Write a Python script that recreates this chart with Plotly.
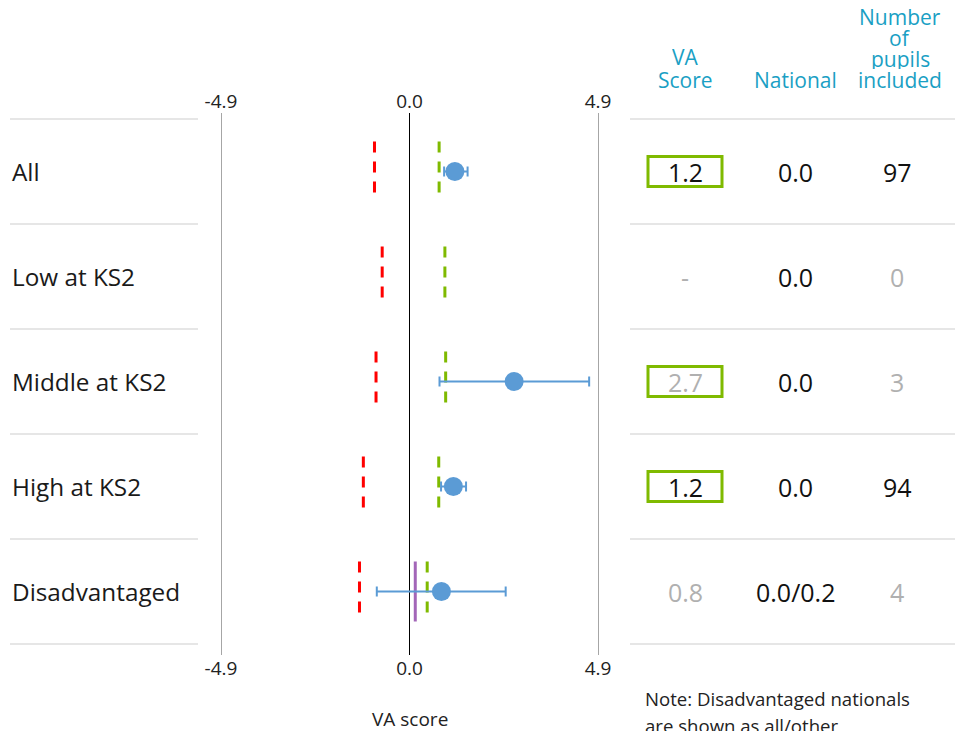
import plotly.graph_objects as go

# ---------------- data ----------------
categories = ["All", "Low at KS2", "Middle at KS2", "High at KS2", "Disadvantaged"]
va_score = [1.18, None, 2.72, 1.14, 0.83]
ci_lower = [0.90, None, 0.78, 0.82, -0.85]
ci_upper = [1.51, None, 4.67, 1.47, 2.50]
red_line = [-0.91, -0.71, -0.87, -1.20, -1.30]
green_line = [0.77, 0.92, 0.94, 0.76, 0.46]
purple_line = [None, None, None, None, 0.15]

va_labels = ["1.2", "-", "2.7", "1.2", "0.8"]
national_labels = ["0.0", "0.0", "0.0", "0.0", "0.0/0.2"]
pupils = [97, 0, 3, 94, 4]
boxed = [True, False, True, True, False]

tick_vals = [-4.9, 0.0, 4.9]
tick_text = ["-4.9", "0.0", "4.9"]

# ---------------- styling / layout helpers ----------------
W, H = 955, 731
FONT = "Open Sans"
HEAD = "#1a9fc4"
GREY = "#b0b0b0"
GREEN = "#7fba00"
RED = "#ff0000"
PURPLE = "#a366b8"
BLUE = "#5b9bd5"
SEP = "#e6e6e6"

def px(p):
    return p / W

def py(p):
    return 1 - p / H

row_px = 105.0
first_row_px = 171.5
plot_top, plot_bot = 113, 655
zero_px, scale = 409.5, 38.47
dom_l, dom_r = 205, 614
x_range = [(dom_l - zero_px) / scale, (dom_r - zero_px) / scale]
y_range = [(plot_bot - first_row_px) / row_px, (plot_top - first_row_px) / row_px]
half = 30 / row_px

def vline_series(vals):
    xs, ys = [], []
    for i, v in enumerate(vals):
        if v is None:
            continue
        xs += [v, v, None]
        ys += [i - half, i + half, None]
    return xs, ys

fig = go.Figure()

rx, ry = vline_series(red_line)
fig.add_trace(go.Scatter(x=rx, y=ry, mode="lines",
                         line=dict(color=RED, width=3, dash="11px,9px"),
                         hoverinfo="skip"))
gx, gy = vline_series(green_line)
fig.add_trace(go.Scatter(x=gx, y=gy, mode="lines",
                         line=dict(color=GREEN, width=3, dash="11px,9px"),
                         hoverinfo="skip"))
ppx, ppy = vline_series(purple_line)
fig.add_trace(go.Scatter(x=ppx, y=ppy, mode="lines",
                         line=dict(color=PURPLE, width=3),
                         hoverinfo="skip"))

rows = list(range(len(categories)))
err_plus = [None if v is None else u - v for v, u in zip(va_score, ci_upper)]
err_minus = [None if v is None else v - l for v, l in zip(va_score, ci_lower)]
fig.add_trace(go.Scatter(
    x=va_score, y=rows, mode="markers",
    marker=dict(color=BLUE, size=19),
    error_x=dict(type="data", symmetric=False, array=err_plus, arrayminus=err_minus,
                 color=BLUE, thickness=2, width=5),
    hovertext=categories, hoverinfo="x+text"))

# dummy trace for top axis
fig.add_trace(go.Scatter(x=[0], y=[0], xaxis="x2", mode="markers",
                         marker=dict(opacity=0), hoverinfo="skip"))

shapes = []
annotations = []

# row separators
for i in range(len(categories) + 1):
    yb = i - 0.5
    shapes.append(dict(type="line", xref="paper", yref="y", x0=px(10), x1=px(198),
                       y0=yb, y1=yb, line=dict(color=SEP, width=2)))
    shapes.append(dict(type="line", xref="paper", yref="y", x0=px(630), x1=1,
                       y0=yb, y1=yb, line=dict(color=SEP, width=2)))

for i, cat in enumerate(categories):
    annotations.append(dict(text=cat, xref="paper", yref="y", x=px(10), y=i,
                            xanchor="left", yanchor="middle", showarrow=False,
                            font=dict(family=FONT, size=24.3, color="#1a1a1a")))
    small = pupils[i] < 5
    annotations.append(dict(text=va_labels[i], xref="paper", yref="y", x=px(685), y=i,
                            xanchor="center", yanchor="middle", showarrow=False,
                            font=dict(family=FONT, size=25, color=GREY if small else "#111")))
    annotations.append(dict(text=national_labels[i], xref="paper", yref="y", x=px(795), y=i,
                            xanchor="center", yanchor="middle", showarrow=False,
                            font=dict(family=FONT, size=25, color="#111")))
    annotations.append(dict(text=str(pupils[i]), xref="paper", yref="y", x=px(897), y=i,
                            xanchor="center", yanchor="middle", showarrow=False,
                            font=dict(family=FONT, size=25, color=GREY if small else "#111")))
    if boxed[i]:
        shapes.append(dict(type="rect", xref="paper", yref="y", x0=px(648), x1=px(722),
                           y0=i - 15 / row_px, y1=i + 15 / row_px,
                           line=dict(color=GREEN, width=3)))

# headers
headers = [("VA", 685, 57), ("Score", 685, 80), ("National", 795, 80),
           ("Number", 900, 17), ("of", 900, 38), ("pupils", 900, 59), ("included", 900, 80)]
for t, hx, hy in headers:
    annotations.append(dict(text=t, xref="paper", yref="paper", x=px(hx), y=py(hy),
                            xanchor="center", yanchor="middle", showarrow=False,
                            height=20,
                            font=dict(family=FONT, size=21, color=HEAD)))

annotations.append(dict(text="VA score", xref="paper", yref="paper", x=px(409.5), y=py(719),
                        xanchor="center", yanchor="middle", showarrow=False,
                        font=dict(family=FONT, size=19, color="#222")))
annotations.append(dict(text="Note: Disadvantaged nationals", xref="paper", yref="paper",
                        x=px(643), y=py(698), xanchor="left", yanchor="middle", showarrow=False,
                        font=dict(family=FONT, size=18.6, color="#222")))
annotations.append(dict(text="are shown as all/other", xref="paper", yref="paper",
                        x=px(643), y=py(725), xanchor="left", yanchor="middle", showarrow=False,
                        font=dict(family=FONT, size=18.6, color="#222")))

axis_common = dict(range=x_range, tickvals=tick_vals, ticktext=tick_text,
                   ticks="", tickfont=dict(family=FONT, size=19, color="#222"),
                   showline=False, fixedrange=True)

fig.update_layout(
    width=W, height=H, margin=dict(l=0, r=0, t=0, b=0),
    paper_bgcolor="white", plot_bgcolor="white", showlegend=False,
    xaxis=dict(domain=[px(dom_l), px(dom_r)], side="bottom", showgrid=True,
               gridcolor="#a6a6a6", gridwidth=1, zeroline=True, zerolinecolor="#000",
               zerolinewidth=1, **axis_common),
    xaxis2=dict(domain=[px(dom_l), px(dom_r)], side="top", overlaying="x", matches="x",
                showgrid=False, zeroline=False, **axis_common),
    yaxis=dict(domain=[py(plot_bot), py(plot_top)], range=y_range, visible=False,
               fixedrange=True),
    shapes=shapes, annotations=annotations,
    font=dict(family=FONT),
)

fig.write_html("out.html", config={"displayModeBar": False},
               post_script="document.body.style.margin='0';document.body.style.overflow='hidden';")
